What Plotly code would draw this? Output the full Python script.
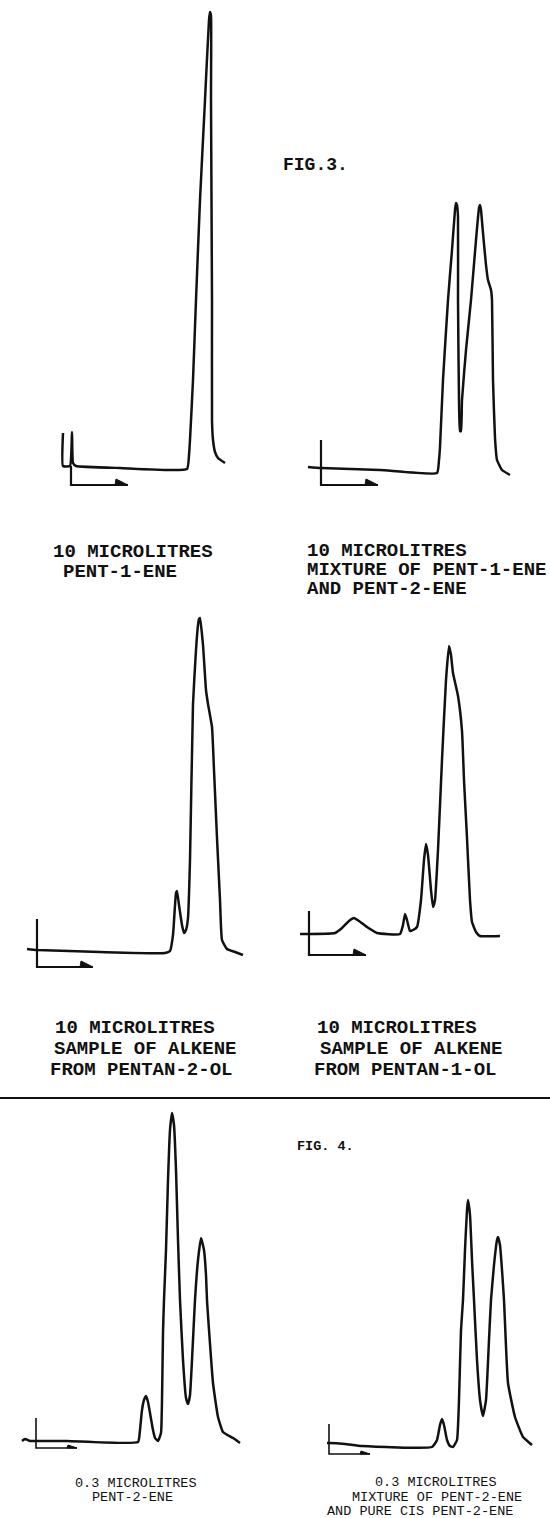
import plotly.graph_objects as go

# ---------------- data: retention time (t) and detector response (r) ----------------
# FIG. 3 – 10 microlitres
p1_t = [-8, -8, -1, 1, 2, 5, 49, 116, 118, 119, 122, 125, 129, 134, 138, 139, 140, 140, 141, 141, 142, 144, 147, 154]
p1_r = [33, 0, 0, 34, 3, 0, -2, -3, 11, 26, 86, 166, 266, 366, 446, 454, 450, 366, 166, 46, 26, 14, 8, 3]

p2_t = [-13, 0, 59, 116, 118, 119, 122, 127, 131, 134, 135, 136, 137, 137, 138, 139, 140, 141, 145, 150, 155, 158,
        159, 160, 162, 165, 167, 170, 171, 172, 174, 176, 181, 189]
p2_r = [1, 0, -2, -5, 8, 21, 88, 168, 218, 258, 265, 263, 251, 168, 68, 37, 37, 68, 118, 168, 228, 260,
        263, 258, 235, 203, 188, 178, 168, 88, 30, 8, -2, -7]

p3_t = [-10, 0, 63, 128, 133, 136, 139, 140, 142, 145, 147, 149, 151, 153, 156, 159, 161, 162, 163,
        166, 169, 171, 175, 177, 180, 183, 185, 190, 198, 206]
p3_r = [1, 0, -2, -3, -1, 15, 57, 59, 45, 25, 17, 20, 32, 90, 246, 300, 325, 331, 332,
        305, 260, 246, 223, 180, 112, 50, 10, 1, -2, -5]

p4_t = [-9, 0, 26, 33, 40, 45, 50, 58, 68, 91, 94, 96, 98, 101, 104, 108, 112, 115, 117, 119, 122, 124, 126, 129,
        133, 137, 140, 142, 144, 149, 153, 155, 158, 161, 163, 167, 171, 191]
p4_r = [0, 0, 1, 6, 13, 16, 13, 7, 1, 0, 9, 20, 14, 3, 4, 7, 34, 74, 90, 79, 44, 27, 34, 84,
        174, 254, 288, 279, 261, 238, 203, 154, 96, 34, 12, 2, -2, -2]

# FIG. 4 – 0.3 microlitres
p5_t = [-14, -11, -6, 0, 31, 102, 104, 106, 108, 110, 112, 114, 117, 119, 122, 125, 126, 127, 128, 130, 132,
        134, 136, 138, 140, 142, 144, 147, 150, 152, 154, 157, 159, 162, 165, 168, 170, 171, 177, 182, 187, 197, 204]
p5_r = [0, 2, 0, 0, 0, -1, 11, 31, 41, 45, 39, 28, 11, 3, 0, 8, 41, 108, 141, 191, 261,
        311, 328, 316, 271, 201, 141, 81, 43, 37, 46, 101, 141, 181, 203, 191, 166, 141, 58, 24, 9, 3, -2]

p6_t = [-2, 0, 16, 33, 103, 108, 111, 113, 115, 118, 121, 124, 128, 130, 132, 134, 136, 138, 139, 141, 143,
        145, 148, 151, 154, 157, 160, 162, 165, 168, 169, 171, 173, 175, 179, 186, 194, 203]
p6_r = [2, 2, 1, -1, -2, 5, 20, 26, 20, 5, -1, -2, 5, 45, 115, 145, 195, 235, 245, 230, 185,
        145, 85, 45, 29, 45, 105, 145, 180, 205, 208, 200, 175, 145, 62, 28, 8, 0]

labels = {
    1: ["10 MICROLITRES", "PENT-1-ENE"],
    2: ["10 MICROLITRES", "MIXTURE OF PENT-1-ENE", "AND PENT-2-ENE"],
    3: ["10 MICROLITRES", "SAMPLE OF ALKENE", "FROM PENTAN-2-OL"],
    4: ["10 MICROLITRES", "SAMPLE OF ALKENE", "FROM PENTAN-1-OL"],
    5: ["0.3 MICROLITRES", "PENT-2-ENE"],
    6: ["0.3 MICROLITRES", "MIXTURE OF PENT-2-ENE", "AND PURE CIS PENT-2-ENE"],
}
fig_titles = ["FIG.3.", "FIG. 4."]

# ---------------- layout (pixel geometry of the page) ----------------
W, H = 550, 1518
# panel box: left, right, top, bottom, origin x, origin y (pixels)
boxes = {
    1: (10, 270, 0, 500, 71, 466),
    2: (280, 545, 150, 500, 321, 468),
    3: (10, 270, 580, 990, 37, 950),
    4: (280, 545, 600, 990, 309, 934),
    5: (10, 270, 1100, 1470, 36, 1441),
    6: (280, 545, 1160, 1470, 329, 1445),
}
# start marker: tick above baseline, arrow level, arrow length, head length, head height
markers = {
    1: (0, -19, 57, 13, 6),
    2: (28, -17, 57, 13, 6),
    3: (31, -17, 56, 13, 6),
    4: (23, -21, 57, 13, 6),
    5: (23, -7, 41, 10, 3),
    6: (21, -9, 41, 10, 3),
}
label_pos = {  # (left x, centre y) per line, pixels
    1: [(51, 552), (61, 572)],
    2: [(305, 551), (305, 570), (305, 589)],
    3: [(53, 1028), (52, 1049), (48, 1070)],
    4: [(315, 1028), (318, 1049), (312, 1070)],
    5: [(73, 1483), (90, 1497)],
    6: [(373, 1482), (350, 1497), (325, 1511)],
}
series = {1: (p1_t, p1_r), 2: (p2_t, p2_r), 3: (p3_t, p3_r),
          4: (p4_t, p4_r), 5: (p5_t, p5_r), 6: (p6_t, p6_r)}

INK = "#111111"
fig = go.Figure()
layout_axes = {}
for k in range(1, 7):
    L, R, T, B, ox, oy = boxes[k]
    xa = "x" if k == 1 else f"x{k}"
    ya = "y" if k == 1 else f"y{k}"
    xkey = "xaxis" if k == 1 else f"xaxis{k}"
    ykey = "yaxis" if k == 1 else f"yaxis{k}"
    layout_axes[xkey] = dict(domain=[L / W, R / W], range=[L - ox, R - ox], visible=False,
                             anchor=ya, fixedrange=True)
    layout_axes[ykey] = dict(domain=[1 - B / H, 1 - T / H], range=[oy - B, oy - T], visible=False,
                             anchor=xa, fixedrange=True)
    t, r = series[k]
    fig.add_trace(go.Scatter(x=t, y=r, mode="lines", xaxis=xa, yaxis=ya,
                             line=dict(color=INK, width=2.5, shape="spline", smoothing=0.4),
                             hoverinfo="skip"))
    up, dn, ln, hl, hh = markers[k]
    fig.add_trace(go.Scatter(x=[0, 0, ln], y=[up, dn, dn], mode="lines", xaxis=xa, yaxis=ya,
                             line=dict(color=INK, width=2.2 if k <= 4 else 1.6), hoverinfo="skip"))
    fig.add_trace(go.Scatter(x=[ln - hl, ln, ln - hl + 1, ln - hl], y=[dn, dn, dn + hh, dn],
                             mode="lines", fill="toself", fillcolor=INK, xaxis=xa, yaxis=ya,
                             line=dict(color=INK, width=1), hoverinfo="skip"))

annotations = []
for k in range(1, 7):
    big = k <= 4
    for txt, (lx, cy) in zip(labels[k], label_pos[k]):
        annotations.append(dict(
            text=txt, x=lx / W, y=1 - cy / H, xref="paper", yref="paper",
            xanchor="left", yanchor="middle", showarrow=False,
            font=dict(family="Liberation Mono, Courier New, monospace",
                      size=19 if big else 13.5, color=INK,
                      weight="bold" if big else "normal")))
annotations.append(dict(text=fig_titles[0], x=281 / W, y=1 - 165 / H, xref="paper", yref="paper",
                        xanchor="left", yanchor="middle", showarrow=False,
                        font=dict(family="Liberation Mono, monospace", size=18, color=INK, weight="bold")))
annotations.append(dict(text=fig_titles[1], x=295 / W, y=1 - 1146 / H, xref="paper", yref="paper",
                        xanchor="left", yanchor="middle", showarrow=False,
                        font=dict(family="Liberation Mono, monospace", size=13.5, color=INK, weight="bold")))

fig.update_layout(
    width=W, height=H, margin=dict(l=0, r=0, t=0, b=0),
    paper_bgcolor="white", plot_bgcolor="white", showlegend=False,
    annotations=annotations,
    shapes=[dict(type="line", xref="paper", yref="paper", x0=0, x1=1,
                 y0=1 - 1098 / H, y1=1 - 1098 / H, line=dict(color=INK, width=2))],
    **layout_axes,
)
fig.write_html("out.html", config={"displayModeBar": False},
               post_script="document.body.style.margin='0';document.body.style.padding='0';"
                           "document.body.style.overflow='hidden';")
